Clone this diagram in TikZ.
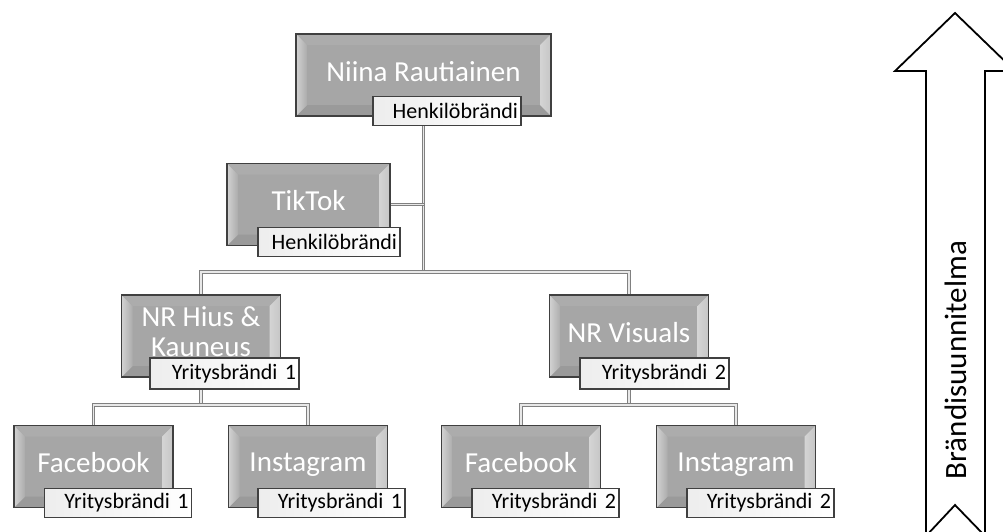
\documentclass[tikz,border=0pt]{standalone}
\usepackage{fontspec}
\setmainfont{Carlito}
\usepackage{xcolor}
\usepackage{tikz}
\usetikzlibrary{positioning,backgrounds}

\definecolor{boxface}{HTML}{A6A6A6}
\definecolor{boxedge}{HTML}{404040}
\definecolor{bevtop}{HTML}{ACACAC}
\definecolor{bevleft}{HTML}{D2D2D2}
\definecolor{bevright}{HTML}{C6C6C6}
\definecolor{bevbottom}{HTML}{9A9A9A}
\definecolor{linkedge}{HTML}{808080}
\definecolor{linkfill}{HTML}{E8E8E8}

% bevel facets of the grey boxes
\newcommand{\bevelfaces}{%
  \fill[bevtop] (path picture bounding box.north west) -- (path picture bounding box.north east)
    -- ([shift={(-11pt,-11pt)}]path picture bounding box.north east)
    -- ([shift={(11pt,-11pt)}]path picture bounding box.north west) -- cycle;
  \fill[bevbottom] (path picture bounding box.south west) -- (path picture bounding box.south east)
    -- ([shift={(-11pt,11pt)}]path picture bounding box.south east)
    -- ([shift={(11pt,11pt)}]path picture bounding box.south west) -- cycle;
  \fill[left color=bevleft, right color=bevtop] (path picture bounding box.north west)
    -- ([shift={(11pt,-11pt)}]path picture bounding box.north west)
    -- ([shift={(11pt,11pt)}]path picture bounding box.south west)
    -- (path picture bounding box.south west) -- cycle;
  \fill[left color=bevright!75!white, right color=bevright] (path picture bounding box.north east)
    -- ([shift={(-11pt,-11pt)}]path picture bounding box.north east)
    -- ([shift={(-11pt,11pt)}]path picture bounding box.south east)
    -- (path picture bounding box.south east) -- cycle;
}

\tikzset{
  brandbox/.style={draw=boxedge, line width=1.1pt, fill=boxface, text=white,
    minimum width=159pt, minimum height=82pt, inner sep=0pt, align=center,
    text depth=8pt, font=\fontsize{29}{30}\selectfont, path picture={\bevelfaces}},
  tagbox/.style={draw=boxedge, line width=1.1pt, left color=black!7, right color=white,
    text=black, minimum height=29pt, inner xsep=3pt, inner ysep=0pt, align=right,
    text width=#1, font=\fontsize{22}{24}\selectfont},
  tagbox/.default=141pt,
  link/.style={draw=linkedge, line width=0.8pt, double=linkfill, double distance=1.6pt},
  planarrow/.style={draw=black, line width=1.8pt, fill=white, line join=miter}
}

\begin{document}
\begin{tikzpicture}[x=1pt, y=-1pt]
\useasboundingbox (0,0) rectangle (1003,531);

% brand boxes
\node[brandbox, minimum width=255pt] (niina) at (423.5,75) {Niina Rautiainen};
\node[brandbox, minimum width=163pt] (tiktok) at (308.5,204.5) {TikTok};
\node[brandbox] (hius) at (201,336) {NR Hius \&\\Kauneus};
\node[brandbox] (visuals) at (629,336) {NR Visuals};
\node[brandbox] (fbhius) at (93.5,466.5) {Facebook};
\node[brandbox] (ighius) at (308,466.5) {Instagram};
\node[brandbox] (fbvisuals) at (521,466.5) {Facebook};
\node[brandbox] (igvisuals) at (736,466.5) {Instagram};

% tags
\node[tagbox=142pt] (niinatag) at (447,111) {Henkilöbrändi};
\node[tagbox=136pt] (tiktoktag) at (329,242) {Henkilöbrändi};
\node[tagbox=143pt, minimum height=31pt] (hiustag) at (224.5,373.5) {Yritysbrändi 1};
\node[tagbox=143pt, minimum height=31pt] (visualstag) at (654.5,373.5) {Yritysbrändi 2};
\node[tagbox] (fbhiustag) at (118,503) {Yritysbrändi 1};
\node[tagbox] (ighiustag) at (331.5,503) {Yritysbrändi 1};
\node[tagbox] (fbvisualstag) at (545.5,503) {Yritysbrändi 2};
\node[tagbox] (igvisualstag) at (760.5,503) {Yritysbrändi 2};

\coordinate (split0) at (423.5,272);
\coordinate (split1) at (201,405);
\coordinate (split2) at (629,405);

% connectors behind the boxes
\begin{scope}[on background layer]
\draw[link] (niina.south) -- (split0);
\draw[link] (tiktok.east) -- (tiktok.east -| split0);
\draw[link] (hius.north) |- (split0) -| (visuals.north);
\draw[link] (hius.south) -- (split1);
\draw[link] (fbhius.north) |- (split1) -| (ighius.north);
\draw[link] (visuals.south) -- (split2);
\draw[link] (fbvisuals.north) |- (split2) -| (igvisuals.north);
\end{scope}

% side arrow
\begin{scope}
\clip (0,0) rectangle (1003,531);
\draw[planarrow] (955,13) -- (1015,71) -- (985,71) -- (985,536) -- (955,505)
  -- (926,536) -- (926,71) -- (895,71) -- cycle;
\end{scope}
\node[rotate=90, font=\fontsize{31}{33}\selectfont] (plan) at (956,360) {Brändisuunnitelma};

\end{tikzpicture}
\end{document}
